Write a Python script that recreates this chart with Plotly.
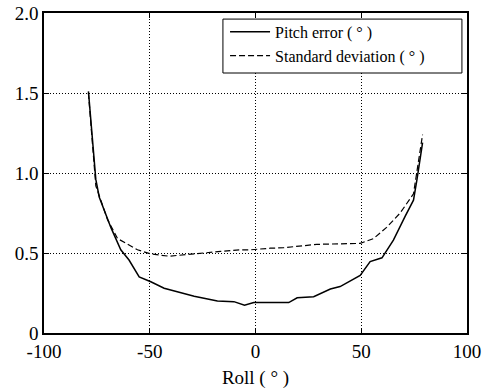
import plotly.graph_objects as go

roll_pitch = [-79, -75.5, -73.9, -68.4, -63.7, -59.8, -55, -49.5, -43.2, -33.8, -29, -18, -10.2, -5.2, -0.8, 3.9, 15.7, 19.7, 27.5, 35.4, 40, 49.5, 54.2, 59.8, 65.2, 70.8, 74.7, 76.3, 79]
pitch_error = [1.51, 0.96, 0.85, 0.66, 0.52, 0.456, 0.35, 0.32, 0.28, 0.25, 0.23, 0.20, 0.196, 0.173, 0.19, 0.19, 0.19, 0.22, 0.227, 0.275, 0.29, 0.36, 0.446, 0.47, 0.58, 0.73, 0.83, 0.956, 1.19]

roll_std = [-79, -75.5, -70, -65.2, -55.8, -49.5, -40.9, -30.7, -16.5, -7, -2.4, 7, 13.4, 29, 38.5, 49.5, 55.8, 62, 68.4, 74.7, 79]
std_dev = [1.50, 0.92, 0.71, 0.59, 0.52, 0.494, 0.48, 0.494, 0.51, 0.52, 0.52, 0.53, 0.533, 0.554, 0.556, 0.56, 0.59, 0.66, 0.75, 0.87, 1.24]

x_ticks = [-100, -50, 0, 50, 100]
x_tick_labels = ["-100", "-50", "0", "50", "100"]
y_ticks = [0, 0.5, 1.0, 1.5, 2.0]
y_tick_labels = ["0", "0.5", "1.0", "1.5", "2.0"]

fig = go.Figure()
fig.add_trace(go.Scatter(x=roll_pitch, y=pitch_error, mode="lines", name="Pitch error ( ° )",
                         line=dict(color="black", width=1.5)))
fig.add_trace(go.Scatter(x=roll_std, y=std_dev, mode="lines", name="Standard deviation ( ° )",
                         line=dict(color="black", width=1.2, dash="6px,3px")))

axis_common = dict(showline=True, linecolor="black", linewidth=1.5, mirror="ticks",
                   ticks="inside", ticklen=5, tickcolor="black",
                   showgrid=True, gridcolor="black", gridwidth=1, griddash="1px,2px",
                   zeroline=False, automargin=False, ticklabeloverflow="allow",
                   tickfont=dict(family="Liberation Serif", size=19, color="black"))

fig.update_xaxes(range=[-100, 100], tickvals=x_ticks, ticktext=x_tick_labels,
                 title=dict(text="Roll ( ° )", font=dict(family="Liberation Serif", size=19, color="black"), standoff=10),
                 **axis_common)
fig.update_yaxes(range=[0, 2.0], tickvals=y_ticks, ticktext=y_tick_labels, **axis_common)

# legend frame
fig.add_shape(type="rect", xref="paper", yref="paper",
              x0=0.423, x1=0.988, y0=0.8125, y1=0.981,
              line=dict(color="black", width=1), fillcolor="white", layer="above")

fig.update_layout(
    width=496, height=389,
    margin=dict(l=44, r=29, t=13, b=56),
    plot_bgcolor="white", paper_bgcolor="white",
    showlegend=True,
    legend=dict(x=0.428, y=0.994, xanchor="left", yanchor="top",
                borderwidth=0, bgcolor="rgba(0,0,0,0)",
                font=dict(family="Liberation Serif", size=16, color="black"),
                tracegroupgap=0, itemwidth=40),
)

fig.write_html("out.html", config={"displayModeBar": False},
               post_script="document.body.style.margin='0';")
